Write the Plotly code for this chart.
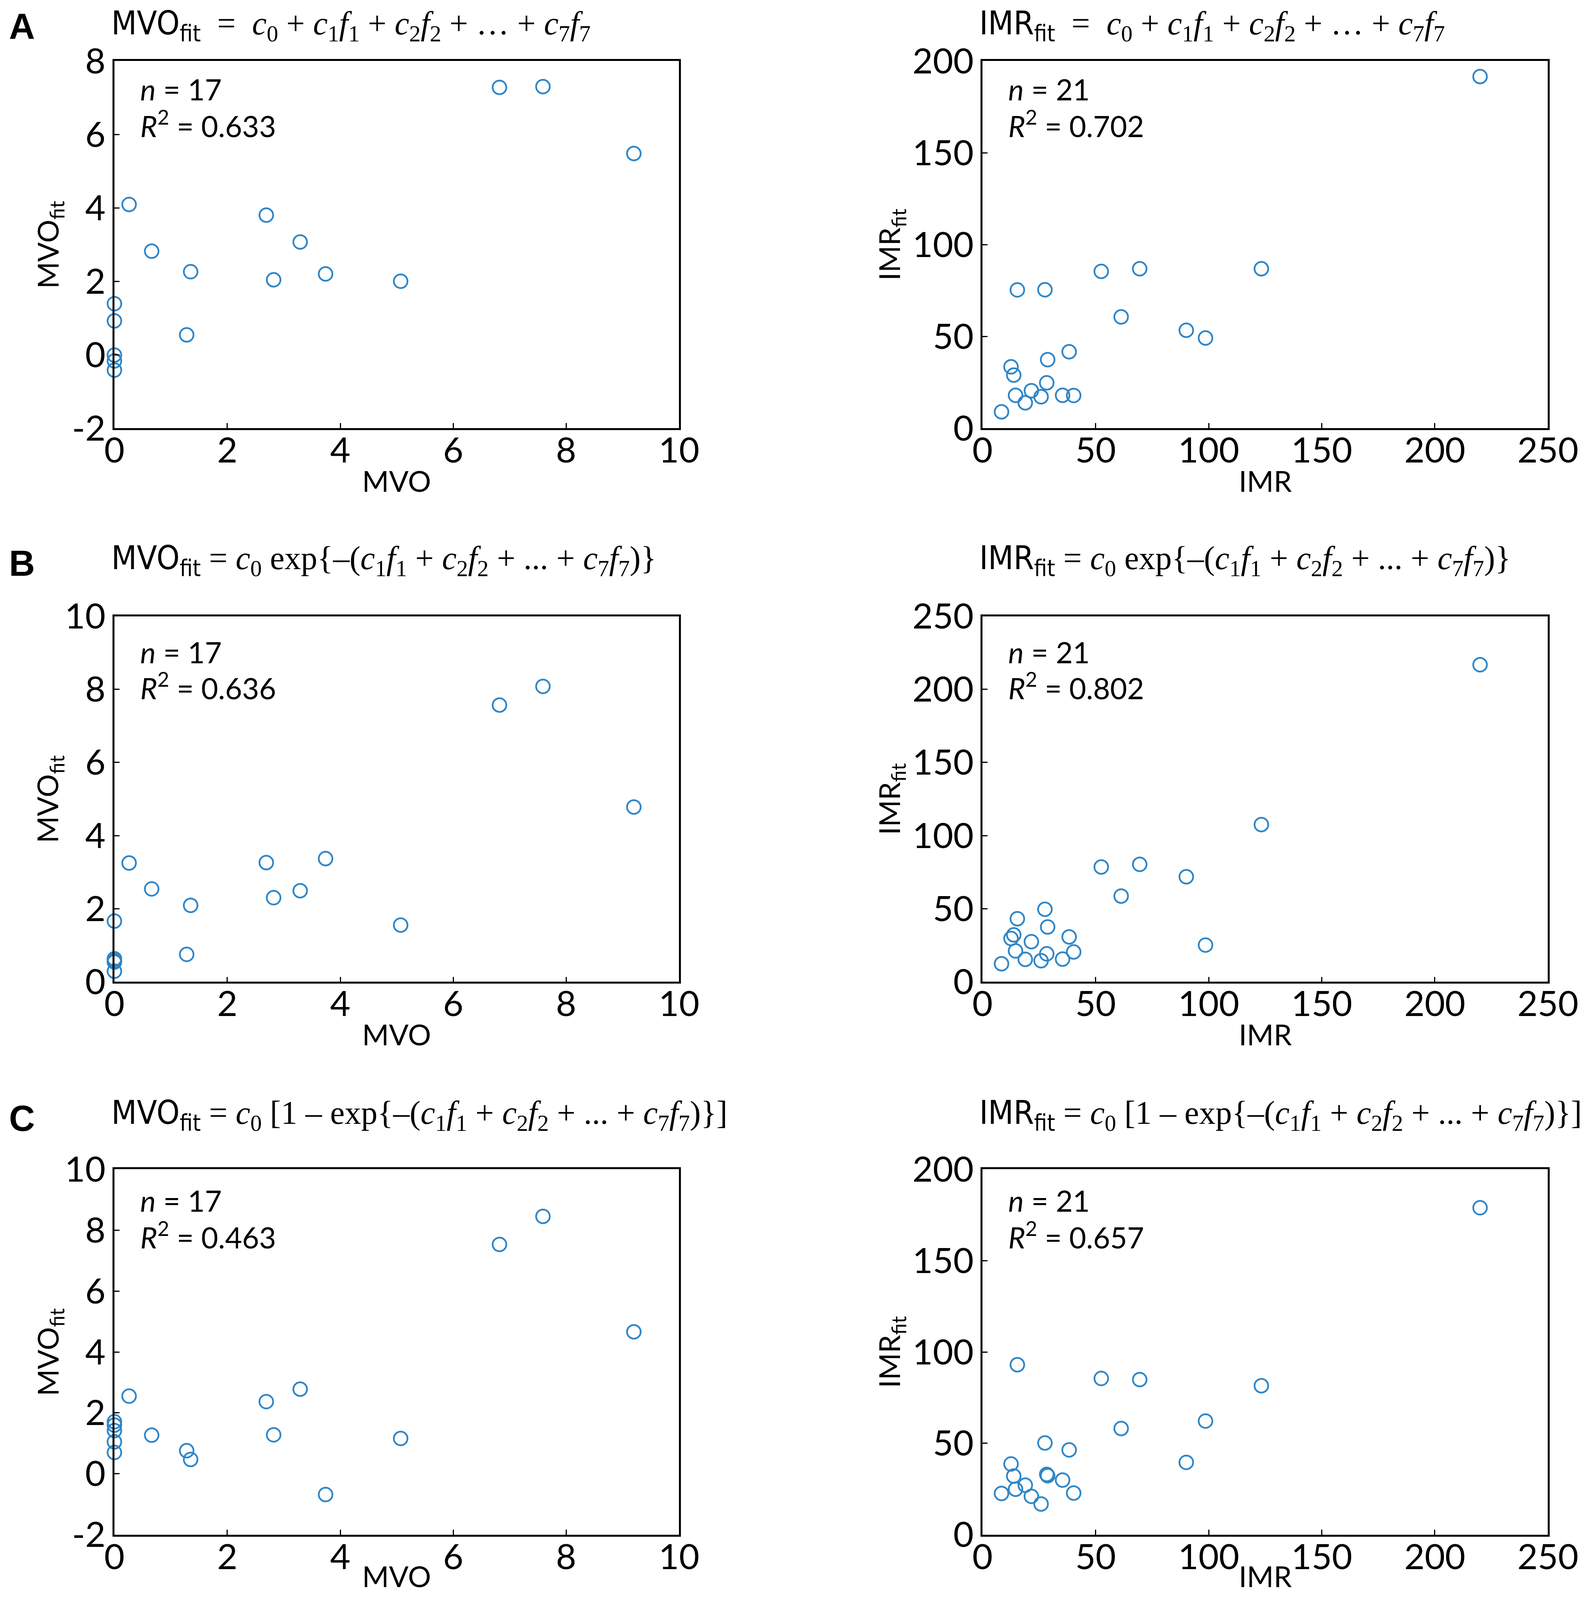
import plotly.graph_objects as go

# ---- data ----
MVO = [6.82, 7.59, 9.20, 0.26, 2.69, 3.29, 0.66, 1.35, 3.74, 2.82, 5.07, 1.28, 0, 0, 0, 0, 0]
MVO_fit_lin = [7.28, 7.30, 5.48, 4.09, 3.80, 3.07, 2.82, 2.26, 2.20, 2.04, 2.00, 0.54, 1.39, 0.92, -0.01, -0.17, -0.42]
MVO_fit_exp = [7.57, 8.08, 4.78, 3.25, 3.26, 2.49, 2.54, 2.09, 3.37, 2.30, 1.55, 0.75, 1.66, 0.63, 0.58, 0.54, 0.29]
MVO_fit_sat = [7.53, 8.45, 4.66, 2.55, 2.37, 2.78, 1.27, 0.47, -0.68, 1.28, 1.16, 0.76, 1.71, 1.60, 1.42, 1.05, 0.70]

IMR = [220.0, 52.5, 69.5, 123.3, 15.4, 27.6, 61.3, 90.1, 98.6, 38.3, 28.8,
       12.6, 13.8, 28.4, 21.6, 14.6, 25.9, 35.4, 40.3, 18.9, 8.4]
IMR_fit_lin = [191.5, 85.4, 86.8, 86.8, 75.3, 75.4, 60.6, 53.3, 49.1, 41.6, 37.3,
               33.4, 28.9, 24.7, 20.4, 17.9, 17.1, 17.9, 17.8, 13.8, 8.9]
IMR_fit_exp = [216.8, 78.5, 80.3, 107.5, 43.1, 49.6, 58.6, 71.8, 25.1, 30.7, 37.5,
               29.6, 32.1, 19.1, 27.4, 21.1, 14.4, 15.5, 20.4, 15.3, 12.3]
IMR_fit_sat = [178.9, 85.5, 84.9, 81.5, 93.0, 50.2, 58.1, 39.6, 62.2, 46.4, 32.3,
               38.7, 32.1, 33.0, 21.0, 24.9, 16.8, 29.9, 22.8, 27.1, 22.6]

panel_letters = ["A", "B", "C"]
r2_mvo = ["0.633", "0.636", "0.463"]
r2_imr = ["0.702", "0.802", "0.657"]
n_mvo = 17
n_imr = 21
mvo_fit_ranges = [(-2, 8), (0, 10), (-2, 10)]
imr_fit_ranges = [(0, 200), (0, 250), (0, 200)]
mvo_range = (0, 10)
imr_range = (0, 250)

# ---- layout geometry (pixels of the 4083 x 4796 page) ----
W, H = 4083, 4796
col_x = [(286, 1737), (2517, 3970)]
row_y = [(174, 1279), (1845, 2945), (3509, 4609)]
title_y = [40, 1676, 3346]
stat_off = [(85, 189), (107, 210), (94, 198)]
xtitle_shift = [-134, -134, -106]   # bottom row pulled up so it stays on the page

BLUE = "#2F86C8"
SANS = "Lato, Noto Sans, sans-serif"
NARROW = "Liberation Sans Narrow, DejaVu Sans Condensed, sans-serif"
SERIF = "Liberation Serif, serif"


def px(x):
    return x / W


def py(y):
    return 1 - y / H


def formula(kind):
    terms = ("<i>c</i><sub>1</sub><i>f</i><sub>1</sub> + <i>c</i><sub>2</sub><i>f</i><sub>2</sub>"
             " + %s + <i>c</i><sub>7</sub><i>f</i><sub>7</sub>")
    if kind == 0:
        return "&nbsp; = &nbsp;<i>c</i><sub>0</sub> + " + terms % "…"
    if kind == 1:
        return " = <i>c</i><sub>0</sub> exp{–(" + terms % "..." + ")}"
    return " = <i>c</i><sub>0</sub> [1 – exp{–(" + terms % "..." + ")}]"


def ticks(lo, hi, step):
    vals = list(range(lo, hi + 1, step))
    return vals, [str(v) for v in vals]


fig = go.Figure()
annotations = []
datasets = [
    [(MVO, MVO_fit_lin), (IMR, IMR_fit_lin)],
    [(MVO, MVO_fit_exp), (IMR, IMR_fit_exp)],
    [(MVO, MVO_fit_sat), (IMR, IMR_fit_sat)],
]

k = 0
for r in range(3):
    # the first row sits against the top edge, so anchor its texts by their top
    if r == 0:
        t_y, t_anchor = 1.0, "top"
    else:
        t_y, t_anchor = py(title_y[r]), "middle"
    for c in range(2):
        k += 1
        xs, ys = datasets[r][c]
        xa = "x" if k == 1 else "x%d" % k
        ya = "y" if k == 1 else "y%d" % k
        fig.add_trace(go.Scatter(
            x=xs, y=ys, mode="markers", xaxis=xa, yaxis=ya, cliponaxis=False,
            marker=dict(symbol="circle-open", size=35, color=BLUE, line=dict(width=4.5, color=BLUE)),
            showlegend=False, hoverinfo="skip",
        ))
        name = "MVO" if c == 0 else "IMR"
        xr = mvo_range if c == 0 else imr_range
        yr = mvo_fit_ranges[r] if c == 0 else imr_fit_ranges[r]
        step = 2 if c == 0 else 50
        xv, xt = ticks(xr[0], xr[1], step)
        yv, yt = ticks(yr[0], yr[1], step)
        axis_common = dict(
            showline=True, linecolor="black", linewidth=4.5, mirror=True,
            ticks="inside", ticklen=13, tickwidth=2.5, tickcolor="black", automargin=False,
            showgrid=False, zeroline=False, tickfont=dict(family=SANS, size=90, color="black"),
        )
        x0, x1 = col_x[c]
        y0, y1 = row_y[r]
        fig.layout["xaxis" if k == 1 else "xaxis%d" % k] = dict(
            axis_common, domain=[px(x0), px(x1)], range=list(xr),
            tickvals=xv, ticktext=xt, anchor=ya, ticklabelstandoff=-25,
        )
        fig.layout["yaxis" if k == 1 else "yaxis%d" % k] = dict(
            axis_common, domain=[py(y1), py(y0)], range=list(yr),
            tickvals=yv, ticktext=yt, anchor=xa, ticklabelstandoff=0,
        )
        xd = (xa + " domain")
        yd = (ya + " domain")
        # axis titles
        annotations.append(dict(
            text=name, xref=xd, yref=yd, x=0.5, y=0, yshift=xtitle_shift[r],
            xanchor="center", yanchor="middle", showarrow=False,
            font=dict(family=SANS, size=74, color="black"),
        ))
        annotations.append(dict(
            text=name + "<sub>fit</sub>", xref=xd, yref=yd, x=0, y=0.5,
            xshift=-166 if c == 0 else -234, textangle=-90,
            xanchor="center", yanchor="middle", showarrow=False,
            font=dict(family=SANS, size=74, color="black"),
        ))
        # n and R^2
        n_val = n_mvo if c == 0 else n_imr
        r2 = r2_mvo[r] if c == 0 else r2_imr[r]
        annotations.append(dict(
            text="<i>n</i> = %d" % n_val, xref="paper", yref="paper",
            x=px(x0 + 64), y=py(y0 + stat_off[r][0]), xanchor="left", yanchor="middle",
            showarrow=False, font=dict(family=SANS, size=75, color="black"),
        ))
        annotations.append(dict(
            text="<i>R</i><sup>2</sup> = " + r2, xref="paper", yref="paper",
            x=px(x0 + 64), y=py(y0 + stat_off[r][1]), xanchor="left", yanchor="middle",
            showarrow=False, font=dict(family=SANS, size=75, color="black"),
        ))
        # formula title
        annotations.append(dict(
            text="<span style=\"font-family:%s\">%s<sub>fit</sub></span>%s" % (NARROW, name, formula(r)),
            xref="paper", yref="paper", x=px(x0 - 10), y=t_y,
            xanchor="left", yanchor=t_anchor, showarrow=False,
            font=dict(family=SERIF, size=84, color="black"),
        ))
    annotations.append(dict(
        text="<b>%s</b>" % panel_letters[r], xref="paper", yref="paper",
        x=px(48), y=t_y if r == 0 else py(title_y[r] + 10), xanchor="center",
        yanchor=t_anchor, yshift=-6 if r == 0 else 0, showarrow=False,
        font=dict(family="Liberation Sans, Arial, sans-serif", size=92, color="black"),
    ))

fig.update_layout(
    autosize=True, margin=dict(l=0, r=0, t=0, b=0, autoexpand=False),
    paper_bgcolor="white", plot_bgcolor="white",
    annotations=annotations,
)

fig.write_html("out.html", default_width="calc(100vw - 16px)", default_height="calc(100vh - 16px)")
